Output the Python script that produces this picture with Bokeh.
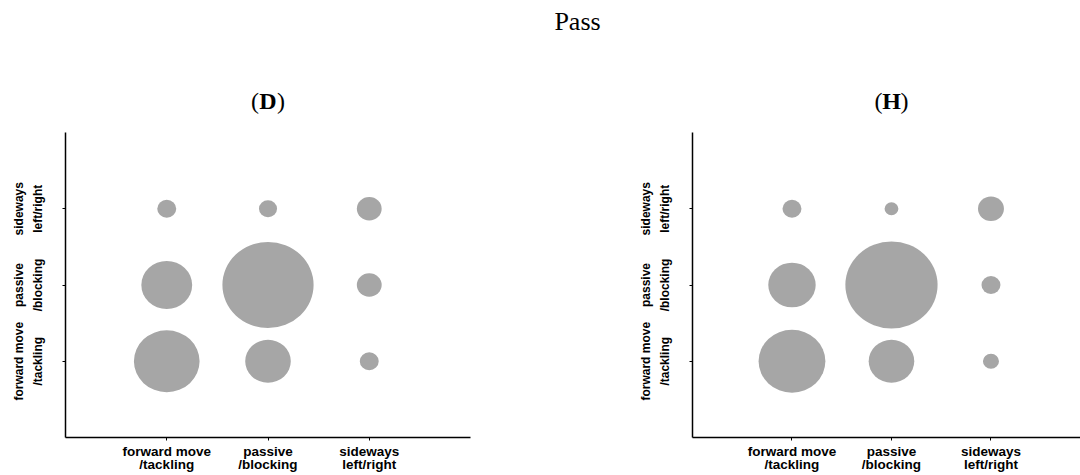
import math
from bokeh.plotting import figure
from bokeh.layouts import column, row
from bokeh.models import Range1d, FixedTicker, ColumnDataSource
from bokeh.core.properties import value
from bokeh.embed import file_html
from bokeh.resources import INLINE

# ---- data ----
suptitle = "Pass"
panel_letters = ["D", "H"]
tick_labels = ["forward move\n/tackling", "passive\n/blocking", "sideways\nleft/right"]
# values[row][col]: row = y category, col = x category
values_D = [
    [38.4, 18.5, 3.2],
    [23.0, 74.0, 5.5],
    [3.2, 2.9, 5.5],
]
values_H = [
    [39.7, 18.5, 2.3],
    [20.0, 75.7, 3.2],
    [3.2, 1.7, 6.0],
]

GREY = "#a6a6a6"
SERIF = "Liberation Serif"
SANS = "Liberation Sans"

TOP_H = 132
FRAME_H = 305
BOT = 38


def make_panel(vals, width, left, right, xmax):
    p = figure(width=width, height=FRAME_H + BOT, output_backend="svg",
               toolbar_location=None, x_range=Range1d(0, xmax), y_range=Range1d(0, 4),
               min_border_left=left, min_border_right=right, min_border_top=0,
               min_border_bottom=BOT)
    xs, ys, ws, hs = [], [], [], []
    for r, rowvals in enumerate(vals):
        for c, v in enumerate(rowvals):
            d = 10 * math.sqrt(v)
            xs.append(c + 1)
            ys.append(r + 1)
            hs.append(d)
            ws.append(d * 1.06)
    src = ColumnDataSource(dict(x=xs, y=ys, w=ws, h=hs))
    p.ellipse(x="x", y="y", width="w", height="h", width_units="screen",
              height_units="screen", source=src, fill_color=GREY, line_color=None)
    p.grid.visible = False
    p.outline_line_color = None
    ticks = list(range(1, len(tick_labels) + 1))
    overrides = {t: lab for t, lab in zip(ticks, tick_labels)}
    for ax in (p.xaxis[0], p.yaxis[0]):
        ax.ticker = FixedTicker(ticks=ticks)
        ax.major_label_overrides = overrides
        ax.minor_tick_line_color = None
        ax.major_tick_in = 0
        ax.major_tick_out = 3
        ax.axis_line_width = 1.5
        ax.axis_line_color = "black"
        ax.major_tick_line_color = "black"
        ax.major_label_text_font = SANS
        ax.major_label_text_font_style = "bold"
        ax.major_label_text_color = "black"
    p.xaxis.major_label_text_font_size = "13.5px"
    p.xaxis.major_label_text_line_height = 0.88
    p.xaxis.major_label_standoff = 3
    p.yaxis.major_label_text_font_size = "12px"
    p.yaxis.major_label_text_line_height = 1.3
    p.yaxis.major_label_orientation = "vertical"
    p.yaxis.major_label_standoff = 18
    return p


# title strip (coordinates in page pixels)
pt = figure(width=1080, height=TOP_H, output_backend="svg", toolbar_location=None,
            x_range=Range1d(0, 1080), y_range=Range1d(TOP_H, 0),
            min_border=0, x_axis_type=None, y_axis_type=None)
pt.grid.visible = False
pt.outline_line_color = None
pt.text(x=[577], y=[21], text=[suptitle], text_font=value(SERIF), text_font_size="26px",
        text_align="center", text_baseline="alphabetic", text_color="black")

p1 = make_panel(values_D, 540, 65, 70, 4.0)
p2 = make_panel(values_H, 540, 152, 0, 3.9)

# panel titles "(X)" with bold letter, centered over middle category
centers = [65 + 2 * 405 / 4.0, 540 + 152 + 2 * 388 / 3.9]
for letter, cx in zip(panel_letters, centers):
    half = 9
    pt.text(x=[cx], y=[100], text=[letter], text_font=value(SERIF), text_font_size="24px",
            text_font_style="bold", text_align="center", text_baseline="alphabetic",
            text_color="black")
    pt.text(x=[cx - half], y=[100], text=["("], text_font=value(SERIF), text_font_size="24px",
            text_align="right", text_baseline="alphabetic", text_color="black")
    pt.text(x=[cx + half], y=[100], text=[")"], text_font=value(SERIF), text_font_size="24px",
            text_align="left", text_baseline="alphabetic", text_color="black")

layout = column(pt, row(p1, p2, spacing=0), spacing=0)
open("out.html", "w").write(file_html(layout, INLINE))
